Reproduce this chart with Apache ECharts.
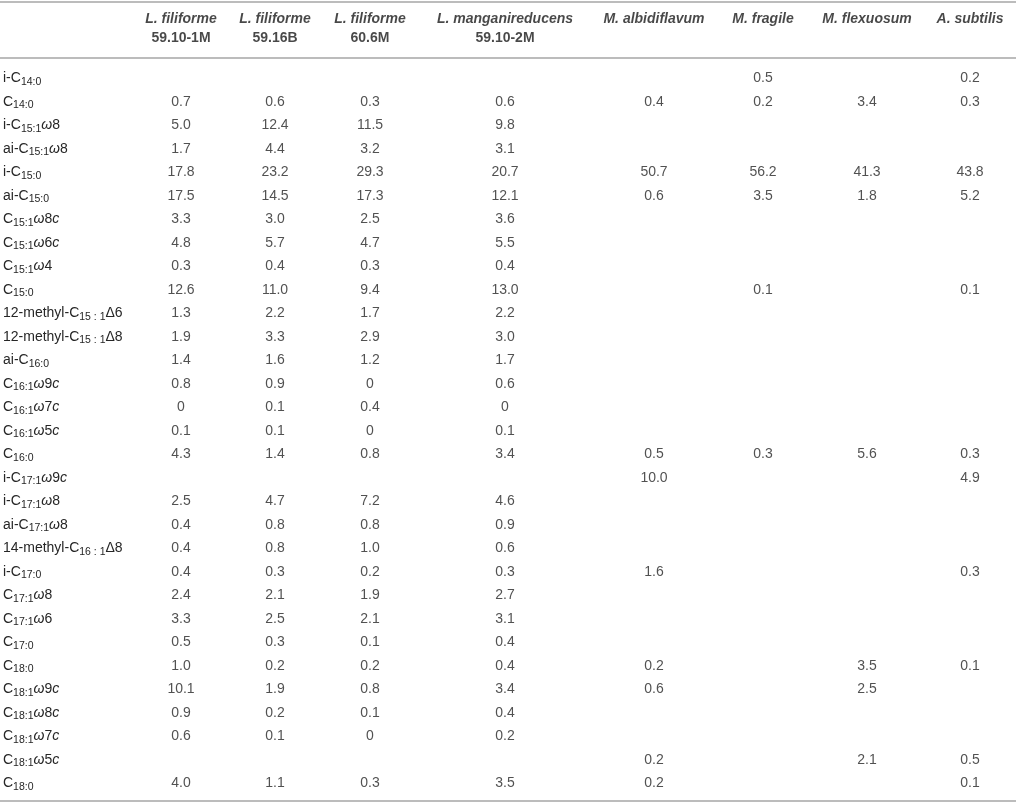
<!DOCTYPE html>
<html>
<head>
<meta charset="utf-8">
<script src="https://cdn.jsdelivr.net/npm/echarts@6/dist/echarts.min.js"></script>
<style>
  html, body { margin: 0; padding: 0; background: #fff; }
  #chart { width: 1016px; height: 804px; }
</style>
</head>
<body>
<div id="chart"></div>
<script>
// ---------------- DATA ----------------
// Column headers: species (italic) and strain (second line)
const species = ['L. filiforme', 'L. filiforme', 'L. filiforme', 'L. manganireducens',
                 'M. albidiflavum', 'M. fragile', 'M. flexuosum', 'A. subtilis'];
const strains = ['59.10-1M', '59.16B', '60.6M', '59.10-2M', '', '', '', ''];

// Row labels (fatty acids). Markup: _{..} subscript, *..* italic
const fattyAcids = [
  'i-C_{14:0}', 'C_{14:0}', 'i-C_{15:1}*ω*8', 'ai-C_{15:1}*ω*8', 'i-C_{15:0}', 'ai-C_{15:0}',
  'C_{15:1}*ω*8*c*', 'C_{15:1}*ω*6*c*', 'C_{15:1}*ω*4', 'C_{15:0}',
  '12-methyl-C_{15 : 1}Δ6', '12-methyl-C_{15 : 1}Δ8', 'ai-C_{16:0}',
  'C_{16:1}*ω*9*c*', 'C_{16:1}*ω*7*c*', 'C_{16:1}*ω*5*c*', 'C_{16:0}',
  'i-C_{17:1}*ω*9*c*', 'i-C_{17:1}*ω*8', 'ai-C_{17:1}*ω*8', '14-methyl-C_{16 : 1}Δ8',
  'i-C_{17:0}', 'C_{17:1}*ω*8', 'C_{17:1}*ω*6', 'C_{17:0}', 'C_{18:0}',
  'C_{18:1}*ω*9*c*', 'C_{18:1}*ω*8*c*', 'C_{18:1}*ω*7*c*', 'C_{18:1}*ω*5*c*', 'C_{18:0}'
];

// Values per column (null = blank cell)
const lFiliforme_59_10_1M = [null, 0.7, 5.0, 1.7, 17.8, 17.5, 3.3, 4.8, 0.3, 12.6, 1.3, 1.9, 1.4, 0.8, 0, 0.1, 4.3, null, 2.5, 0.4, 0.4, 0.4, 2.4, 3.3, 0.5, 1.0, 10.1, 0.9, 0.6, null, 4.0];
const lFiliforme_59_16B   = [null, 0.6, 12.4, 4.4, 23.2, 14.5, 3.0, 5.7, 0.4, 11.0, 2.2, 3.3, 1.6, 0.9, 0.1, 0.1, 1.4, null, 4.7, 0.8, 0.8, 0.3, 2.1, 2.5, 0.3, 0.2, 1.9, 0.2, 0.1, null, 1.1];
const lFiliforme_60_6M    = [null, 0.3, 11.5, 3.2, 29.3, 17.3, 2.5, 4.7, 0.3, 9.4, 1.7, 2.9, 1.2, 0, 0.4, 0, 0.8, null, 7.2, 0.8, 1.0, 0.2, 1.9, 2.1, 0.1, 0.2, 0.8, 0.1, 0, null, 0.3];
const lManganireducens    = [null, 0.6, 9.8, 3.1, 20.7, 12.1, 3.6, 5.5, 0.4, 13.0, 2.2, 3.0, 1.7, 0.6, 0, 0.1, 3.4, null, 4.6, 0.9, 0.6, 0.3, 2.7, 3.1, 0.4, 0.4, 3.4, 0.4, 0.2, null, 3.5];
const mAlbidiflavum       = [null, 0.4, null, null, 50.7, 0.6, null, null, null, null, null, null, null, null, null, null, 0.5, 10.0, null, null, null, 1.6, null, null, null, 0.2, 0.6, null, null, 0.2, 0.2];
const mFragile            = [0.5, 0.2, null, null, 56.2, 3.5, null, null, null, 0.1, null, null, null, null, null, null, 0.3, null, null, null, null, null, null, null, null, null, null, null, null, null, null];
const mFlexuosum          = [null, 3.4, null, null, 41.3, 1.8, null, null, null, null, null, null, null, null, null, null, 5.6, null, null, null, null, null, null, null, null, 3.5, 2.5, null, null, 2.1, null];
const aSubtilis           = [0.2, 0.3, null, null, 43.8, 5.2, null, null, null, 0.1, null, null, null, null, null, null, 0.3, 4.9, null, null, null, 0.3, null, null, null, 0.1, null, null, null, 0.5, 0.1];

const columns = [lFiliforme_59_10_1M, lFiliforme_59_16B, lFiliforme_60_6M, lManganireducens,
                 mAlbidiflavum, mFragile, mFlexuosum, aSubtilis];

// ---------------- LAYOUT / STYLE ----------------
const COL_WIDTHS = [134, 94, 94, 96, 174, 124, 94, 114, 92]; // label column + 8 data columns
const TABLE_WIDTH = COL_WIDTHS.reduce((a, b) => a + b, 0);
const colCenters = [];
(function () {
  let acc = COL_WIDTHS[0];
  for (let i = 1; i < COL_WIDTHS.length; i++) {
    colCenters.push(acc + COL_WIDTHS[i] / 2);
    acc += COL_WIDTHS[i];
  }
})();

const FONT = '"Liberation Sans", Arial, Helvetica, sans-serif';
const TEXT = '#262626';
const RULE = { color: '#bcbcbc', width: 2 };

function fmt(v) { return v === 0 ? '0' : v.toFixed(1); }

function toRich(markup) {
  const re = /_\{([^}]*)\}|\*([^*]*)\*|([^_*]+)/g;
  let out = '', m;
  while ((m = re.exec(markup)) !== null) {
    if (m[1] !== undefined) out += '{s|' + m[1] + '}';
    else if (m[2] !== undefined) out += '{i|' + m[2] + '}';
    else out += '{n|' + m[3] + '}';
  }
  return out;
}

const hiddenValueX = (gridIndex, position, offset) => ({
  type: 'value', gridIndex, position, offset, min: 0, max: TABLE_WIDTH,
  axisLine: { show: true, lineStyle: RULE }, axisTick: { show: false },
  axisLabel: { show: false }, splitLine: { show: false }
});

const bodySeries = columns.map((col, ci) => ({
  type: 'scatter',
  name: species[ci] + ' ' + strains[ci],
  xAxisIndex: 0, yAxisIndex: 0,
  symbolSize: 1,
  itemStyle: { color: 'rgba(0,0,0,0)' },
  silent: true,
  data: col.map((v, ri) => v === null ? null : [colCenters[ci], ri, v]).filter(d => d !== null),
  label: {
    show: true, position: 'inside',
    formatter: p => fmt(p.value[2]),
    fontFamily: FONT, fontSize: 14, color: TEXT
  }
}));

const headerSeries = {
  type: 'scatter',
  xAxisIndex: 2, yAxisIndex: 1,
  symbolSize: 1,
  itemStyle: { color: 'rgba(0,0,0,0)' },
  silent: true,
  data: species.map((s, i) => [colCenters[i], 0.5, i]),
  label: {
    show: true, position: 'inside',
    formatter: p => '{sp|' + species[p.value[2]] + '}\n{st|' + (strains[p.value[2]] || ' ') + '}',
    rich: {
      sp: { fontFamily: FONT, fontSize: 14, fontWeight: 'bold', fontStyle: 'italic', color: '#1a1a1a', lineHeight: 19 },
      st: { fontFamily: FONT, fontSize: 14, fontWeight: 'bold', color: '#1a1a1a', lineHeight: 19 }
    }
  }
};

const chart = echarts.init(document.getElementById('chart'), null, { renderer: 'canvas' });
chart.setOption({
  animation: false,
  backgroundColor: '#ffffff',
  grid: [
    { left: 0, right: 0, top: 78.5, bottom: 20.7 },
    { left: 0, right: 0, top: 2, height: 53 }
  ],
  xAxis: [
    hiddenValueX(0, 'top', 20.5),
    hiddenValueX(0, 'bottom', 17.7),
    hiddenValueX(1, 'top', 0)
  ],
  yAxis: [
    {
      type: 'category', gridIndex: 0, inverse: true, boundaryGap: false,
      data: fattyAcids,
      axisLine: { show: false }, axisTick: { show: false }, splitLine: { show: false },
      axisLabel: {
        inside: true, margin: 3, interval: 0, align: 'left',
        formatter: v => toRich(v),
        rich: {
          n: { fontFamily: FONT, fontSize: 14, color: TEXT, lineHeight: 18 },
          i: { fontFamily: FONT, fontSize: 14, fontStyle: 'italic', color: TEXT, lineHeight: 18 },
          s: { fontFamily: FONT, fontSize: 10.5, color: TEXT, lineHeight: 10, verticalAlign: 'bottom' }
        }
      }
    },
    {
      type: 'value', gridIndex: 1, min: 0, max: 1, inverse: true, show: false
    }
  ],
  series: bodySeries.concat([headerSeries])
});
</script>
</body>
</html>
